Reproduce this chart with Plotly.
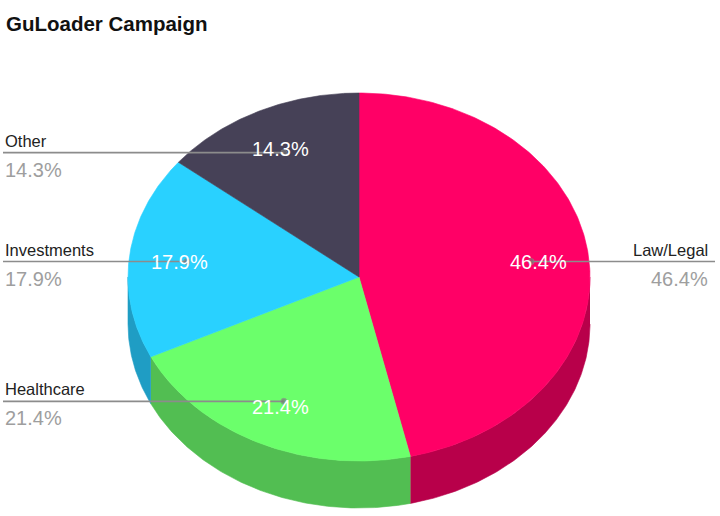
import numpy as np
import plotly.graph_objects as go

# ---- data ----
categories = ["Law/Legal", "Healthcare", "Investments", "Other"]
values = [13, 6, 5, 4]
title_text = "GuLoader Campaign"

# ---- styles ----
top_colors = ["#FF0066", "#6BFF6B", "#29D1FF", "#464157"]
side_colors = ["#B8004A", "#52BE52", "#1F9DC4", "#34303F"]

CX, CY, RX, RY, DEPTH = 359, 277, 231, 184, 47
LABEL_FRAC = 0.75
TEXT_FRAC = 0.78
FONT = "Arial, Liberation Sans, sans-serif"
W, H = 720, 516


def pt(theta_deg, f=1.0):
    t = np.radians(theta_deg)
    return CX + f * RX * np.sin(t), CY - f * RY * np.cos(t)


total = float(sum(values))
fracs = [v / total for v in values]
starts = np.concatenate([[0.0], np.cumsum(fracs)[:-1]]) * 360.0
ends = np.cumsum(fracs) * 360.0

fig = go.Figure()

# sides (visible front half: 90..270 deg clockwise from top)
for i, (a, b) in enumerate(zip(starts, ends)):
    lo, hi = max(a, 90.0), min(b, 270.0)
    if hi <= lo:
        continue
    th = np.linspace(lo, hi, 120)
    ax, ay = pt(th)
    xs = list(ax) + list(ax[::-1])
    ys = list(ay) + list((ay + DEPTH)[::-1])
    fig.add_trace(go.Scatter(x=xs, y=ys, fill="toself", mode="lines",
                             line=dict(color=side_colors[i], width=0.6),
                             fillcolor=side_colors[i], hoverinfo="skip",
                             showlegend=False))

# top faces
for i, (a, b) in enumerate(zip(starts, ends)):
    th = np.linspace(a, b, 200)
    ax, ay = pt(th)
    xs = [CX] + list(ax) + [CX]
    ys = [CY] + list(ay) + [CY]
    fig.add_trace(go.Scatter(x=xs, y=ys, fill="toself", mode="lines",
                             line=dict(color=top_colors[i], width=0.6),
                             fillcolor=top_colors[i], hoverinfo="text",
                             text=f"{categories[i]}: {values[i]}",
                             showlegend=False))

annotations = []
for i, (a, b) in enumerate(zip(starts, ends)):
    mid = (a + b) / 2.0
    dx, dy = pt(mid, LABEL_FRAC)
    tx, ty = pt(mid, TEXT_FRAC)
    right = dx > CX
    end_x = 715 if right else 3
    fig.add_trace(go.Scatter(x=[end_x, dx], y=[dy, dy], mode="lines+markers",
                             line=dict(color="#8c8c8c", width=1.6),
                             marker=dict(size=[0, 6], color="#777777"),
                             hoverinfo="skip", showlegend=False))
    pct = f"{fracs[i] * 100:.1f}%"
    annotations.append(dict(x=tx, y=ty + 1, text=pct, showarrow=False,
                            xanchor="center", yanchor="middle",
                            font=dict(family=FONT, size=20, color="white")))
    annotations.append(dict(x=end_x - (5 if right else 0), y=dy - 1, text=categories[i],
                            showarrow=False,
                            xanchor="right" if right else "left", yanchor="bottom",
                            font=dict(family=FONT, size=16.5, color="#222222")))
    annotations.append(dict(x=end_x - (5 if right else 0), y=dy + 4, text=pct,
                            showarrow=False,
                            xanchor="right" if right else "left", yanchor="top",
                            font=dict(family=FONT, size=20, color="#9e9e9e")))

annotations.append(dict(x=4, y=10, text=f"<b>{title_text}</b>", showarrow=False,
                        xanchor="left", yanchor="top",
                        font=dict(family=FONT, size=20.5, color="#111111")))

fig.update_layout(
    width=W, height=H, autosize=False,
    margin=dict(l=0, r=0, t=0, b=0, pad=0),
    paper_bgcolor="white", plot_bgcolor="white",
    xaxis=dict(range=[0, W], visible=False, fixedrange=True),
    yaxis=dict(range=[H, 0], visible=False, fixedrange=True),
    annotations=annotations,
    showlegend=False,
)

fig.write_html("out.html", config={"displayModeBar": False},
               post_script="document.body.style.margin='0';")
